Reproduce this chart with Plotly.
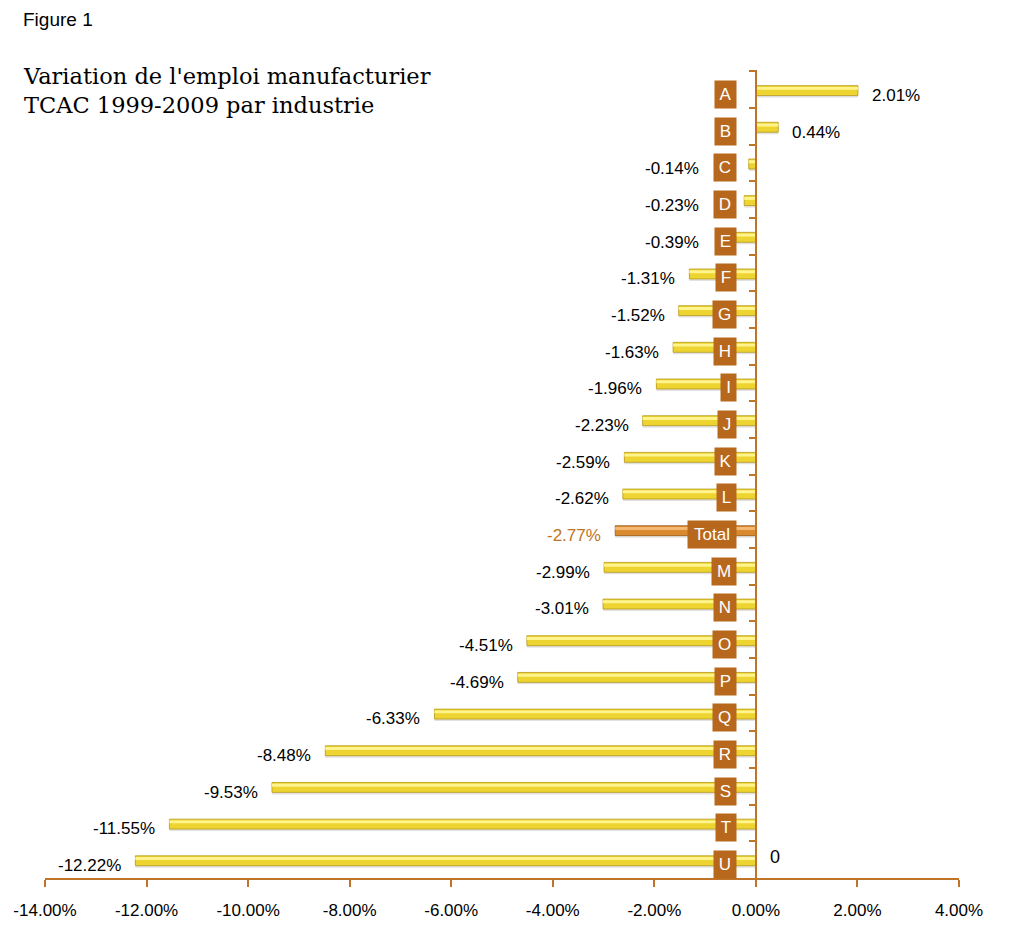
import plotly.graph_objects as go

categories = ["A", "B", "C", "D", "E", "F", "G", "H", "I", "J", "K", "L",
              "Total", "M", "N", "O", "P", "Q", "R", "S", "T", "U"]
values = [2.01, 0.44, -0.14, -0.23, -0.39, -1.31, -1.52, -1.63, -1.96, -2.23,
          -2.59, -2.62, -2.77, -2.99, -3.01, -4.51, -4.69, -6.33, -8.48, -9.53,
          -11.55, -12.22]
tick_vals = [-14, -12, -10, -8, -6, -4, -2, 0, 2, 4]
tick_text = ["-14.00%", "-12.00%", "-10.00%", "-8.00%", "-6.00%", "-4.00%",
             "-2.00%", "0.00%", "2.00%", "4.00%"]

ORANGE = "#C07428"
BOX = "#B8681C"
XMIN, XMAX = -14, 4
PAGE_OFF = 8  # default body margin of the html page
W, H = 1017 - PAGE_OFF, 936 - PAGE_OFF
# plot area in window pixels: x 45..959, y 70..878
ML, MR, MT, MB = 45 - PAGE_OFF, 58, 70 - PAGE_OFF, 58
PX0, PY0 = 45, 70
PW, PH = 959 - 45, 878 - 70

# approximate Arial advance widths (em) for sizing the label boxes
CHAR_W = {"A": .667, "B": .667, "C": .722, "D": .722, "E": .667, "F": .611, "G": .778,
          "H": .722, "I": .278, "J": .5, "K": .667, "L": .556, "M": .833, "N": .722,
          "O": .778, "P": .667, "Q": .778, "R": .722, "S": .667, "T": .611, "U": .722,
          "o": .556, "t": .278, "a": .556, "l": .222}
FS = 17

is_total = [c == "Total" for c in categories]
base_col = ["#D98A2E" if t else "#EDD430" for t in is_total]
line_col = ["#9C5A18" if t else "#B89818" for t in is_total]
hi_col = ["#F4B872" if t else "#FFF48E" for t in is_total]

fig = go.Figure()
fig.add_trace(go.Bar(y=categories, x=values, orientation="h", width=0.27, offset=-0.05,
                     marker=dict(color="rgba(90,90,90,0.18)", line=dict(width=0)),
                     hoverinfo="skip", showlegend=False))
fig.add_trace(go.Bar(y=categories, x=values, orientation="h", width=0.27, offset=-0.105,
                     marker=dict(color=base_col, line=dict(color=line_col, width=0.8)),
                     showlegend=False))
fig.add_trace(go.Bar(y=categories, x=values, orientation="h", width=0.08, offset=-0.07,
                     marker=dict(color=hi_col, line=dict(width=0)),
                     hoverinfo="skip", showlegend=False))

annotations = []
for c, v, t in zip(categories, values, is_total):
    label = f"{v:.2f}%"
    xpos = v if v >= 0 else min(v, -0.85)
    annotations.append(dict(
        x=xpos, y=c, xref="x", yref="y", text=label, showarrow=False,
        xanchor="left" if v >= 0 else "right", xshift=12 if v >= 0 else -12, yshift=-6,
        font=dict(family="Liberation Sans, Arial", size=FS, color=ORANGE if t else "black")))
    tw = sum(CHAR_W.get(ch, .6) for ch in c) * FS
    annotations.append(dict(
        x=-0.37, y=c, xref="x", yref="y", text=c, showarrow=False,
        xanchor="right", yshift=-5, bgcolor=BOX, borderpad=3,
        width=round(tw + 4), height=21,
        font=dict(family="Liberation Sans, Arial", size=FS, color="white")))

annotations.append(dict(x=0, y=categories[-1], xref="x", yref="y", text="0", showarrow=False,
                        xanchor="left", xshift=12, yshift=3,
                        font=dict(family="Liberation Sans, Arial", size=18, color="black")))
annotations.append(dict(x=(21 - PX0) / PW, y=1 - (19 - PY0) / PH, xref="paper", yref="paper",
                        text="Figure 1", showarrow=False, xanchor="left", yanchor="middle",
                        font=dict(family="Liberation Sans, Arial", size=19, color="black")))
annotations.append(dict(x=(21 - PX0) / PW, y=1 - (90 - PY0) / PH, xref="paper", yref="paper",
                        text="Variation de l'emploi manufacturier<br>TCAC 1999-2009 par industrie",
                        showarrow=False, xanchor="left", yanchor="middle", align="left",
                        font=dict(family="DejaVu Serif", size=22.5, color="black")))

fig.update_layout(
    width=W, height=H,
    margin=dict(l=ML, r=MR, t=MT, b=MB),
    paper_bgcolor="white", plot_bgcolor="white",
    barmode="overlay",
    xaxis=dict(range=[XMIN, XMAX], tickvals=tick_vals, ticktext=tick_text, automargin=False,
               showgrid=False, zeroline=False, showline=True, linecolor=ORANGE, linewidth=1.5,
               ticks="outside", ticklen=7, tickcolor=ORANGE, tickwidth=1.5,
               ticklabelstandoff=9,
               tickfont=dict(family="Liberation Sans, Arial", size=FS, color="black")),
    yaxis=dict(categoryorder="array", categoryarray=categories, autorange="reversed",
               anchor="free", position=(0 - XMIN) / (XMAX - XMIN), automargin=False,
               showgrid=False, zeroline=False, showline=True, linecolor=ORANGE, linewidth=1.5,
               ticks="outside", tickson="boundaries", ticklen=6, tickcolor=ORANGE, tickwidth=1.5,
               showticklabels=False),
    annotations=annotations,
)

fig.write_html("out.html")
